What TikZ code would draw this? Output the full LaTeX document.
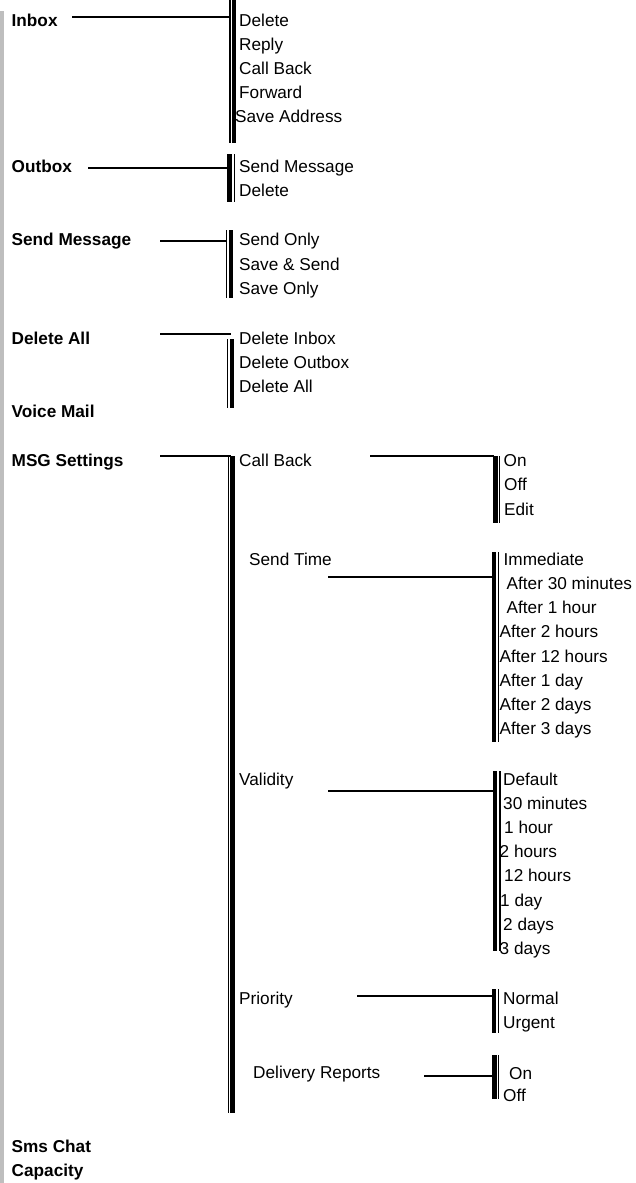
\documentclass[tikz,border=0pt]{standalone}
\usepackage{fontspec}
\setmainfont{Liberation Sans}
\definecolor{sidegray}{RGB}{190,190,190}
\tikzset{
  lbl/.style={font=\fontsize{17.2}{20}\selectfont\bfseries, inner sep=0pt, anchor=base west},
  itm/.style={font=\fontsize{17.2}{20}\selectfont, inner sep=0pt, anchor=base west},
  conn/.style={line width=2.3pt},
  barthin/.style={line width=1.3pt},
  barthick/.style={line width=4.2pt}
}
\begin{document}
\begin{tikzpicture}[x=1pt,y=-1pt]
\useasboundingbox (0,0) rectangle (636,1183);
% left gray bar
\fill[sidegray] (0,11) rectangle (4.3,1183);

% ---------- level 1 labels ----------
\node[lbl] (inbox)   at (11.5,26)    {Inbox};
\node[lbl] (outbox)  at (11.5,172.5) {Outbox};
\node[lbl] (sendmsg) at (11.5,245.7) {Send Message};
\node[lbl] (delall)  at (11.5,344.3) {Delete All};
\node[lbl] (voice)   at (11.5,417.6) {Voice Mail};
\node[lbl] (msgset)  at (11.5,466.6) {MSG Settings};
\node[lbl] (smschat) at (11.5,1152.5){Sms Chat};
\node[lbl] (capac)   at (11.5,1176.6){Capacity};

% ---------- Inbox ----------
\draw[barthin]  (230,0) -- (230,143);
\draw[barthick] (233.7,0) -- (233.7,143);
\coordinate (inboxS) at (72,17);
\coordinate (inboxE) at (229.5,17);
\draw[conn] (inboxS) -- (inboxE);
\node[itm] (ib1) at (239,26)    {Delete};
\node[itm] (ib2) at (239,50.2)  {Reply};
\node[itm] (ib3) at (239,74.4)  {Call Back};
\node[itm] (ib4) at (239,98.6)  {Forward};
\node[itm] (ib5) at (235,122.8) {Save Address};

% ---------- Outbox ----------
\draw[barthick] (229.4,154) -- (229.4,202);
\draw[barthin]  (234.3,154) -- (234.3,202);
\coordinate (outS) at (88,168);
\coordinate (outE) at (228,168);
\draw[conn] (outS) -- (outE);
\node[itm] (ob1) at (239,172.7) {Send Message};
\node[itm] (ob2) at (239,196.8) {Delete};

% ---------- Send Message ----------
\draw[barthin]  (226.7,230) -- (226.7,298);
\draw[barthick] (231.2,230) -- (231.2,298);
\coordinate (smS) at (160,241);
\coordinate (smE) at (226.7,241);
\draw[conn] (smS) -- (smE);
\node[itm] (sm1) at (239,245.7) {Send Only};
\node[itm] (sm2) at (239,270)   {Save \& Send};
\node[itm] (sm3) at (239,294.3) {Save Only};

% ---------- Delete All ----------
\draw[barthin]  (227.7,339) -- (227.7,408);
\draw[barthick] (231.8,339) -- (231.8,408);
\coordinate (daS) at (160,334.3);
\coordinate (daE) at (231,334.3);
\draw[conn] (daS) -- (daE);
\node[itm] (da1) at (239,344.3) {Delete Inbox};
\node[itm] (da2) at (239,368.6) {Delete Outbox};
\node[itm] (da3) at (239,392.8) {Delete All};

% ---------- MSG Settings ----------
\draw[barthin]  (228.5,456) -- (228.5,1113);
\draw[barthick] (232.5,456) -- (232.5,1113);
\coordinate (msS) at (160,456);
\coordinate (msE) at (231,456);
\draw[conn] (msS) -- (msE);
\node[itm] (cb)  at (239,466.7)  {Call Back};
\node[itm] (st)  at (249,565)    {Send Time};
\node[itm] (va)  at (239,785)    {Validity};
\node[itm] (pr)  at (239,1004)   {Priority};
\node[itm] (dr)  at (253,1078.3) {Delivery Reports};

% Call Back
\draw[barthick] (495.5,456) -- (495.5,523);
\draw[barthin]  (499.5,456) -- (499.5,523);
\coordinate (cbS) at (370,456);
\coordinate (cbE) at (494,456);
\draw[conn] (cbS) -- (cbE);
\node[itm] (cb1) at (503.5,466.7) {On};
\node[itm] (cb2) at (504,490.8)   {Off};
\node[itm] (cb3) at (504,515)     {Edit};

% Send Time
\draw[barthick] (494.2,552) -- (494.2,742);
\draw[barthin]  (498.5,552) -- (498.5,742);
\coordinate (stS) at (328,577);
\coordinate (stE) at (493,577);
\draw[conn] (stS) -- (stE);
\node[itm] (st1) at (503.5,565)  {Immediate};
\node[itm] (st2) at (506.5,589.3){After 30 minutes};
\node[itm] (st3) at (506.5,613.6){After 1 hour};
\node[itm] (st4) at (499.5,637.8){After 2 hours};
\node[itm] (st5) at (499.5,662)  {After 12 hours};
\node[itm] (st6) at (499.5,686.2){After 1 day};
\node[itm] (st7) at (499.5,710.5){After 2 days};
\node[itm] (st8) at (499.5,734.7){After 3 days};

% Validity
\draw[barthick] (495,771) -- (495,951);
\draw[barthin]  (500,771) -- (500,951);
\coordinate (vaS) at (328,791);
\coordinate (vaE) at (493,791);
\draw[conn] (vaS) -- (vaE);
\node[itm] (va1) at (503,785)   {Default};
\node[itm] (va2) at (503,809.2) {30 minutes};
\node[itm] (va3) at (504,833.4) {1 hour};
\node[itm] (va4) at (499.5,857.6) {2 hours};
\node[itm] (va5) at (504,881.8) {12 hours};
\node[itm] (va6) at (500,906)   {1 day};
\node[itm] (va7) at (503,930.2) {2 days};
\node[itm] (va8) at (499.5,954.4) {3 days};

% Priority
\draw[barthick] (494.2,989) -- (494.2,1033);
\draw[barthin]  (498.3,989) -- (498.3,1033);
\coordinate (prS) at (357,996);
\coordinate (prE) at (493,996);
\draw[conn] (prS) -- (prE);
\node[itm] (pr1) at (503,1004)  {Normal};
\node[itm] (pr2) at (503,1028)  {Urgent};

% Delivery Reports
\draw[barthick] (494.5,1055) -- (494.5,1099);
\draw[barthin]  (498.5,1055) -- (498.5,1099);
\coordinate (drS) at (424,1076);
\coordinate (drE) at (493,1076);
\draw[conn] (drS) -- (drE);
\node[itm] (dr1) at (509,1079)   {On};
\node[itm] (dr2) at (503,1101.7) {Off};
\end{tikzpicture}
\end{document}
